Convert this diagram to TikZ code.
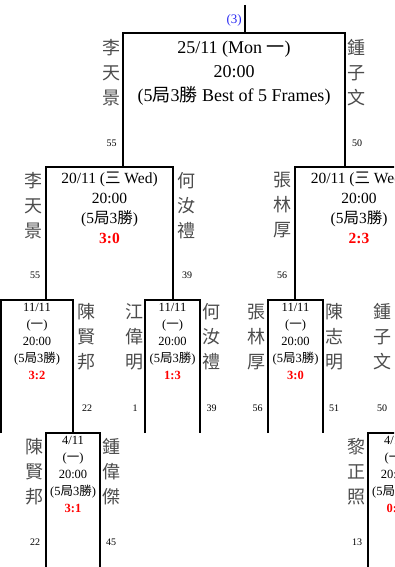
\documentclass[tikz,border=0pt]{standalone}
\usepackage{fontspec}
\setmainfont{Liberation Serif}
\newfontfamily\cjk{Noto Sans CJK TC}
\newcommand\cj[1]{{\cjk #1}}
\newcommand\scr[1]{\textcolor{red}{\bfseries #1}}
\definecolor{namegray}{gray}{0.3}
\definecolor{linkblue}{rgb}{0.15,0.15,0.95}
\tikzset{
  brline/.style={line width=2pt, line join=miter},
  pname/.style={font={\cjk\fontsize{18}{25}\selectfont}, text=namegray, align=center, inner sep=0pt},
  seed/.style={font={\fontsize{10}{12}\selectfont}, inner sep=0pt},
  tA/.style={font={\fontsize{18}{24}\selectfont}, align=center, inner sep=0pt},
  tB/.style={font={\fontsize{15.5}{20}\selectfont}, align=center, inner sep=0pt},
  tC/.style={font={\fontsize{12.5}{17}\selectfont}, align=center, inner sep=0pt},
}
\newcommand\bracketcup[4]{\draw[brline] (#1,#4) |- (#2,#3) -- (#2,#4);}
\begin{document}
\begin{tikzpicture}[x=1pt,y=-1pt]
\useasboundingbox (0,0) rectangle (394,567);
\clip (0,0) rectangle (394,567);
% ---- bracket lines
\coordinate (stemtop) at (244.5,5);
\coordinate (stembot) at (244.5,33);
\draw[brline] (stemtop) -- (stembot);
\node[font={\fontsize{13}{15}\selectfont}, text=linkblue, anchor=east, inner sep=0pt] (lbl3) at (242,20) {(3)};
% level 1
\bracketcup{123}{345}{33}{167}
% level 2
\bracketcup{46}{173}{167}{300}
\bracketcup{295}{423}{167}{300}
% level 3
\bracketcup{1}{73}{300}{433}
\bracketcup{145}{200}{300}{433}
\bracketcup{268}{323}{300}{433}
% level 4
\bracketcup{46}{100}{433}{572}
\bracketcup{368}{422}{433}{572}

% ---- level 1
\node[tA] (m1) at (234,73) {25/11 (Mon \cj{一})\\20:00\\(5\cj{局}3\cj{勝} Best of 5 Frames)};
\node[pname] (p1l) at (111,73) {李\\天\\景};
\node[seed] (s1l) at (111.5,143) {55};
\node[pname] (p1r) at (356,73) {鍾\\子\\文};
\node[seed] (s1r) at (357,143) {50};

% ---- level 2
\node[tB] (m2a) at (109.5,208) {20/11 (\cj{三} Wed)\\20:00\\(5\cj{局}3\cj{勝})\\\scr{3:0}};
\node[pname] (p2al) at (33.5,205.5) {李\\天\\景};
\node[seed] (s2al) at (35,275) {55};
\node[pname] (p2ar) at (186,205.5) {何\\汝\\禮};
\node[seed] (s2ar) at (187,275) {39};
\node[tB] (m2b) at (359,208) {20/11 (\cj{三} Wed)\\20:00\\(5\cj{局}3\cj{勝})\\\scr{2:3}};
\node[pname] (p2bl) at (282,205.5) {張\\林\\厚};
\node[seed] (s2bl) at (282,275) {56};

% ---- level 3
\node[tC] (m3a) at (37,341) {11/11\\(\cj{一})\\20:00\\(5\cj{局}3\cj{勝})\\\scr{3:2}};
\node[pname] (p3ar) at (86.5,337) {陳\\賢\\邦};
\node[seed] (s3ar) at (87,408) {22};
\node[tC] (m3b) at (172.5,341) {11/11\\(\cj{一})\\20:00\\(5\cj{局}3\cj{勝})\\\scr{1:3}};
\node[pname] (p3bl) at (134,337) {江\\偉\\明};
\node[seed] (s3bl) at (135,408) {1};
\node[pname] (p3br) at (211.5,337) {何\\汝\\禮};
\node[seed] (s3br) at (211.5,408) {39};
\node[tC] (m3c) at (295.5,341) {11/11\\(\cj{一})\\20:00\\(5\cj{局}3\cj{勝})\\\scr{3:0}};
\node[pname] (p3cl) at (256.5,337) {張\\林\\厚};
\node[seed] (s3cl) at (257.5,408) {56};
\node[pname] (p3cr) at (334.5,337) {陳\\志\\明};
\node[seed] (s3cr) at (334,408) {51};
\node[pname] (p3dl) at (382,337) {鍾\\子\\文};
\node[seed] (s3dl) at (382,408) {50};

% ---- level 4
\node[tC] (m4a) at (73,474) {4/11\\(\cj{一})\\20:00\\(5\cj{局}3\cj{勝})\\\scr{3:1}};
\node[pname] (p4al) at (34.5,471.5) {陳\\賢\\邦};
\node[seed] (s4al) at (35,542) {22};
\node[pname] (p4ar) at (111.5,471.5) {鍾\\偉\\傑};
\node[seed] (s4ar) at (111,542) {45};
\node[tC] (m4b) at (395,474) {4/11\\(\cj{一})\\20:00\\(5\cj{局}3\cj{勝})\\\scr{0:3}};
\node[pname] (p4bl) at (356,471.5) {黎\\正\\照};
\node[seed] (s4bl) at (357,542) {13};
\end{tikzpicture}
\end{document}
